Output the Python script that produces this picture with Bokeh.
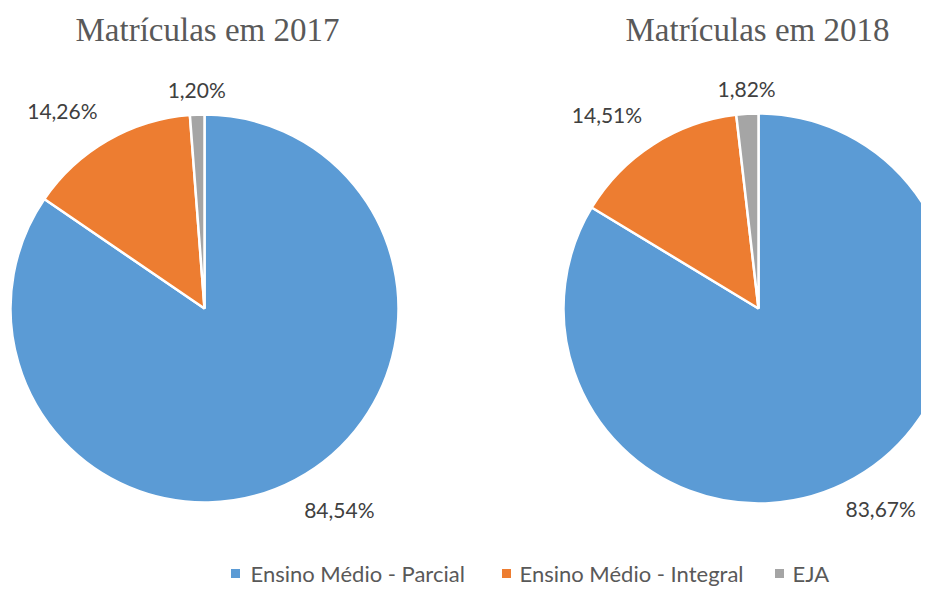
import numpy as np
from bokeh.plotting import figure
from bokeh.models import Range1d, ColumnDataSource
from bokeh.core.properties import value
from bokeh.embed import file_html
from bokeh.resources import INLINE

# ---- data ----
categories = ["Ensino Médio - Parcial", "Ensino Médio - Integral", "EJA"]
values_2017 = [84.54, 14.26, 1.20]
values_2018 = [83.67, 14.51, 1.82]
labels_2017 = ["84,54%", "14,26%", "1,20%"]
labels_2018 = ["83,67%", "14,51%", "1,82%"]
titles = ["Matrículas em 2017", "Matrículas em 2018"]
colors = ["#5B9BD5", "#ED7D31", "#A5A5A5"]

W, H = 921, 589
LABEL_W = 74  # approx. width of a "xx,xx%" label at 21px


def sx(x):
    return x


def sy(y):
    return H - y


p = figure(width=W, height=H, x_range=Range1d(0, W), y_range=Range1d(0, H),
           output_backend="svg", toolbar_location=None, min_border=0)
p.axis.visible = False
p.grid.visible = False
p.outline_line_color = None
p.background_fill_color = "white"
p.border_fill_color = "white"

pies = [
    dict(cx=204, cy=308, r=194, vals=values_2017, labs=labels_2017, title=titles[0], tx=207),
    dict(cx=758, cy=308, r=195, vals=values_2018, labs=labels_2018, title=titles[1], tx=757),
]

for pie in pies:
    vals = np.array(pie["vals"], dtype=float)
    frac = vals / vals.sum()
    cum = np.concatenate([[0], np.cumsum(frac)])
    start = np.pi / 2 - cum[:-1] * 2 * np.pi
    end = np.pi / 2 - cum[1:] * 2 * np.pi
    cx, cy = sx(pie["cx"]), sy(pie["cy"])
    src = ColumnDataSource(dict(start=start, end=end, color=colors,
                                x=[cx] * 3, y=[cy] * 3))
    p.wedge(x="x", y="y", radius=pie["r"], start_angle="start", end_angle="end",
            direction="clock", fill_color="color", line_color="white",
            line_width=2.5, source=src)

    # data labels (outside end)
    mid = (start + end) / 2
    lx, ly, al, bl = [], [], [], []
    for a in mid:
        c, s = np.cos(a), np.sin(a)
        rr = pie["r"] + 12 + 16 * abs(c)
        x = cx + rr * c
        align = "left" if c > 0.3 else ("right" if c < -0.3 else "center")
        if align == "left":
            x = min(x, W - 2 - LABEL_W)
        lx.append(x)
        ly.append(cy + rr * s)
        al.append(align)
        bl.append("bottom" if s > 0.3 else ("top" if s < -0.3 else "middle"))
    for i in range(3):
        p.text(x=[lx[i]], y=[ly[i]], text=[pie["labs"][i]],
               text_font=value("Lato"), text_font_size="21px",
               text_color="#404040", text_align=al[i], text_baseline=bl[i])

    # title
    p.text(x=[sx(pie["tx"])], y=[sy(29)], text=[pie["title"]],
           text_font=value("Liberation Serif"), text_font_size="33px",
           text_color="#595959", text_align="center", text_baseline="alphabetic")

# legend
leg_sq_x = [235, 506, 779]
leg_tx = [250, 519, 792]
leg_y = 573
for i in range(3):
    p.scatter(x=[sx(leg_sq_x[i])], y=[sy(leg_y)], marker="square", size=9,
              fill_color=colors[i], line_color=None)
    p.text(x=[sx(leg_tx[i])], y=[sy(leg_y)], text=[categories[i]],
           text_font=value("Lato"), text_font_size="22px", text_color="#595959",
           text_align="left", text_baseline="middle")

open("out.html", "w").write(file_html(p, INLINE))
